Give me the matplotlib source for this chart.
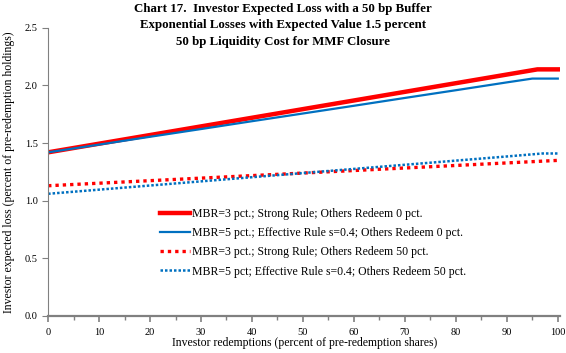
import matplotlib
matplotlib.use("Agg")
import matplotlib.pyplot as plt
from matplotlib.ticker import MultipleLocator

matplotlib.rcParams['font.family'] = ['Liberation Serif', 'DejaVu Serif']

# redemptions (percent of pre-redemption shares)
x_strong0 = [0, 10, 20, 30, 40, 50, 60, 70, 80, 90, 96, 100]
y_strong0 = [1.42, 1.495, 1.57, 1.645, 1.72, 1.795, 1.87, 1.945, 2.02, 2.095, 2.14, 2.14]

x_eff0 = [0, 10, 20, 30, 40, 50, 60, 70, 80, 90, 95, 100]
y_eff0 = [1.42, 1.487, 1.555, 1.622, 1.69, 1.757, 1.824, 1.892, 1.959, 2.027, 2.06, 2.06]

x_strong50 = [0, 10, 20, 30, 40, 50, 60, 70, 80, 90, 100]
y_strong50 = [1.13, 1.152, 1.174, 1.196, 1.218, 1.24, 1.262, 1.284, 1.306, 1.328, 1.35]

x_eff50 = [0, 10, 20, 30, 40, 50, 60, 70, 80, 90, 97, 100]
y_eff50 = [1.06, 1.096, 1.132, 1.168, 1.204, 1.24, 1.276, 1.312, 1.348, 1.384, 1.41, 1.41]

labels = ["MBR=3 pct.; Strong Rule; Others Redeem 0 pct.",
          "MBR=5 pct.; Effective Rule s=0.4; Others Redeem 0 pct.",
          "MBR=3 pct.; Strong Rule; Others Redeem 50 pct.",
          "MBR=5 pct; Effective Rule s=0.4; Others Redeem 50 pct."]

red = "#ff0000"
blue = "#0070c0"

fig = plt.figure(figsize=(5.66, 3.53), dpi=100)
ax = fig.add_axes([0.085, 0.105, 0.905, 0.816])

ax.plot(x_strong0, y_strong0, color=red, linewidth=3.2, label=labels[0])
ax.plot(x_eff0, y_eff0, color=blue, linewidth=1.6, label=labels[1])
ax.plot(x_strong50, y_strong50, color=red, linewidth=2.4, linestyle=(0, (1, 1.2)), label=labels[2])
ax.plot(x_eff50, y_eff50, color=blue, linewidth=1.8, linestyle=(0, (1, 0.8)), label=labels[3])

ax.set_xlim(0, 100.5)
ax.set_ylim(0, 2.5)
ax.xaxis.set_major_locator(MultipleLocator(10))
ax.xaxis.set_minor_locator(MultipleLocator(5))
ax.yaxis.set_major_locator(MultipleLocator(0.5))
ax.yaxis.set_major_formatter(matplotlib.ticker.FormatStrFormatter('%.1f'))

for side in ['top', 'right']:
    ax.spines[side].set_visible(False)
for side in ['left', 'bottom']:
    ax.spines[side].set_color('#808080')
ax.spines['bottom'].set_linewidth(1.6)
ax.tick_params(axis='both', which='both', colors='#808080', labelcolor='black', labelsize=7.5)
ax.tick_params(axis='x', which='major', length=4, width=1.2, pad=5)
ax.tick_params(axis='x', which='minor', length=3, width=1.0)
ax.tick_params(axis='y', length=4)

ax.set_xlabel("Investor redemptions (percent of pre-redemption shares)", fontsize=8.5, labelpad=0)
ax.set_ylabel("Investor expected loss (percent of pre-redemption holdings)", fontsize=8.5, labelpad=7)

fig.text(0.5, 0.992, "Chart 17.  Investor Expected Loss with a 50 bp Buffer\n"
         "Exponential Losses with Expected Value 1.5 percent\n"
         "50 bp Liquidity Cost for MMF Closure",
         ha='center', va='top', fontsize=9.3, fontweight='bold', linespacing=1.5)

ax.legend(loc='upper left', bbox_to_anchor=(0.21, 0.39), frameon=False, fontsize=8.5,
          handlelength=2.5, handletextpad=0.15, labelspacing=0.6, borderaxespad=0)

fig.savefig("out.png", dpi=100)
